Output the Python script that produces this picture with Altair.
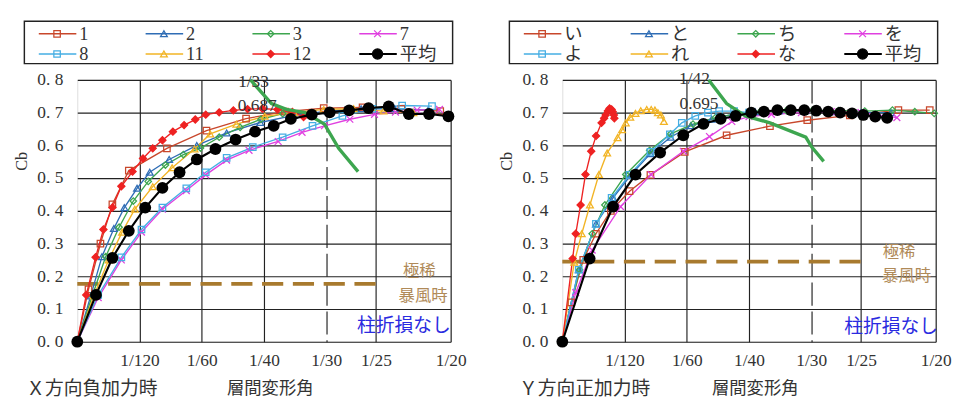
import altair as alt
import pandas as pd

# ---------------- data ----------------
LEFT_NAMES = ["1", "2", "3", "7", "8", "11", "12", "平均"]
RIGHT_NAMES = ["い", "と", "ち", "を", "よ", "れ", "な", "平均"]

COLORS = ["#C8472B", "#2F6DB5", "#3DA64F", "#E040E0", "#45AEE3", "#F2B425", "#EE2222", "#000000"]
SHAPES = ["square", "triangle-up", "diamond", "M-1,-1L1,1M-1,1L1,-1",
          "square", "triangle-up", "diamond", "circle"]
FILLED = [False, False, False, False, False, False, True, True]
SIZES = [45, 50, 45, 50, 45, 50, 55, 150]

X_TICKS = [1 / 120, 1 / 60, 1 / 40, 1 / 30, 1 / 25, 1 / 20]
Y_TICKS = [0.0, 0.1, 0.2, 0.3, 0.4, 0.5, 0.6, 0.7, 0.8]

# X direction, negative loading
L_X = [
    [0, 0.0015, 0.0031, 0.0047, 0.0069, 0.0120, 0.0173, 0.0226, 0.0278, 0.0330, 0.0382, 0.0434, 0.0486],
    [0, 0.0018, 0.0033, 0.0049, 0.0063, 0.0080, 0.0097, 0.0123, 0.0160, 0.0200, 0.0245, 0.0290, 0.0335, 0.0380, 0.0425, 0.0470],
    [0, 0.0020, 0.0038, 0.0056, 0.0075, 0.0095, 0.0118, 0.0142, 0.0165, 0.0190, 0.0218, 0.0246, 0.0275],
    [0, 0.0028, 0.0059, 0.0086, 0.0114, 0.0146, 0.0172, 0.0200, 0.0230, 0.0269, 0.0301, 0.0331, 0.0365, 0.0398, 0.0426, 0.0455, 0.0485],
    [0, 0.0028, 0.0059, 0.0086, 0.0114, 0.0146, 0.0172, 0.0200, 0.0235, 0.0275, 0.0315, 0.0355, 0.0395, 0.0435, 0.0475],
    [0, 0.0022, 0.0042, 0.0060, 0.0077, 0.0101, 0.0127, 0.0157, 0.0178, 0.0213, 0.0251, 0.0290, 0.0330, 0.0370, 0.0410, 0.0450],
    [0, 0.0012, 0.00245, 0.0035, 0.0047, 0.0059, 0.0074, 0.0088, 0.0101, 0.0114, 0.0128, 0.0143, 0.0158, 0.0172, 0.0190, 0.0209, 0.0228, 0.0248, 0.0268, 0.0288, 0.0303],
    [0, 0.0025, 0.0047, 0.0069, 0.0091, 0.0114, 0.0137, 0.0160, 0.0185, 0.0212, 0.0238, 0.0263, 0.0286, 0.0314, 0.0338, 0.0364, 0.0390, 0.0417, 0.0444, 0.0471, 0.0497],
]
L_Y = [
    [0, 0.16, 0.30, 0.42, 0.523, 0.591, 0.645, 0.682, 0.703, 0.714, 0.716, 0.712, 0.705],
    [0, 0.14, 0.26, 0.346, 0.41, 0.469, 0.518, 0.557, 0.60, 0.638, 0.67, 0.692, 0.705, 0.712, 0.712, 0.708],
    [0, 0.14, 0.26, 0.35, 0.43, 0.49, 0.54, 0.572, 0.592, 0.625, 0.655, 0.68, 0.697],
    [0, 0.135, 0.25, 0.335, 0.405, 0.462, 0.51, 0.555, 0.585, 0.612, 0.64, 0.66, 0.68, 0.695, 0.702, 0.708, 0.71],
    [0, 0.143, 0.258, 0.343, 0.41, 0.469, 0.518, 0.562, 0.595, 0.625, 0.66, 0.69, 0.712, 0.722, 0.72],
    [0, 0.14, 0.25, 0.335, 0.405, 0.474, 0.532, 0.589, 0.635, 0.665, 0.689, 0.70, 0.71, 0.712, 0.705, 0.70],
    [0, 0.143, 0.258, 0.343, 0.41, 0.475, 0.52, 0.56, 0.591, 0.616, 0.642, 0.662, 0.679, 0.694, 0.701, 0.707, 0.711, 0.712, 0.71, 0.702, 0.687],
    [0, 0.143, 0.256, 0.339, 0.41, 0.47, 0.518, 0.557, 0.589, 0.618, 0.642, 0.66, 0.681, 0.694, 0.701, 0.707, 0.714, 0.719, 0.696, 0.696, 0.689],
]
L_GREEN_X = [0.0232, 0.0260, 0.0280, 0.0305, 0.0331, 0.0350, 0.0376]
L_GREEN_Y = [0.80, 0.728, 0.71, 0.70, 0.665, 0.591, 0.52]
L_STORM = 0.177

# Y direction, positive loading
R_X = [
    [0, 0.0012, 0.0028, 0.0045, 0.0065, 0.0090, 0.0118, 0.0164, 0.0220, 0.0278, 0.0328, 0.0385, 0.0450, 0.0492],
    [0, 0.0022, 0.0045, 0.0068, 0.0092, 0.0118, 0.0145, 0.0172, 0.0200, 0.0228, 0.0258, 0.0290, 0.0325, 0.0360, 0.0400, 0.0440],
    [0, 0.0023, 0.0040, 0.0057, 0.0085, 0.0117, 0.0145, 0.0175, 0.0205, 0.0235, 0.0265, 0.0300, 0.0335, 0.0370, 0.0405, 0.0442, 0.0472, 0.0498],
    [0, 0.0018, 0.0040, 0.0078, 0.0119, 0.0162, 0.0197, 0.0227, 0.0250, 0.0280, 0.0320, 0.0360, 0.0400, 0.0448],
    [0, 0.0022, 0.0045, 0.0066, 0.0090, 0.0118, 0.0144, 0.0160, 0.0178, 0.0195, 0.0210, 0.0230, 0.0250],
    [0, 0.0016, 0.0026, 0.0037, 0.0049, 0.0060, 0.0074, 0.0080, 0.0085, 0.0091, 0.0098, 0.0105, 0.0113, 0.0119, 0.0124, 0.0128, 0.0132, 0.0136],
    [0, 0.00138, 0.0018, 0.00245, 0.0031, 0.00387, 0.00452, 0.00525, 0.0056, 0.00581, 0.0061, 0.00633, 0.0066, 0.00675, 0.0069, 0.00697],
    [0, 0.00366, 0.0068, 0.0098, 0.0131, 0.0162, 0.0189, 0.0212, 0.0232, 0.0253, 0.0270, 0.0288, 0.0306, 0.0324, 0.0340, 0.0356, 0.0372, 0.0388, 0.0403, 0.0419, 0.0435],
]
R_Y = [
    [0, 0.12, 0.25, 0.33, 0.40, 0.46, 0.51, 0.58, 0.631, 0.659, 0.677, 0.692, 0.708, 0.708],
    [0, 0.22, 0.36, 0.44, 0.51, 0.575, 0.625, 0.66, 0.68, 0.695, 0.703, 0.706, 0.706, 0.703, 0.70, 0.70],
    [0, 0.22, 0.33, 0.418, 0.511, 0.585, 0.635, 0.665, 0.685, 0.697, 0.703, 0.706, 0.707, 0.706, 0.705, 0.708, 0.703, 0.698],
    [0, 0.15, 0.28, 0.413, 0.511, 0.582, 0.627, 0.673, 0.688, 0.695, 0.70, 0.703, 0.70, 0.685],
    [0, 0.22, 0.36, 0.44, 0.51, 0.58, 0.634, 0.669, 0.69, 0.70, 0.705, 0.705, 0.70],
    [0, 0.243, 0.33, 0.418, 0.511, 0.577, 0.624, 0.648, 0.669, 0.686, 0.698, 0.706, 0.71, 0.71, 0.708, 0.70, 0.693, 0.673],
    [0, 0.254, 0.33, 0.418, 0.511, 0.582, 0.629, 0.669, 0.683, 0.693, 0.705, 0.713, 0.71, 0.703, 0.693, 0.683],
    [0, 0.254, 0.413, 0.511, 0.578, 0.631, 0.666, 0.681, 0.69, 0.70, 0.703, 0.708, 0.708, 0.708, 0.706, 0.703, 0.70, 0.698, 0.693, 0.688, 0.684],
]
R_GREEN_X = [0.0196, 0.0220, 0.0245, 0.0278, 0.0326, 0.0334, 0.0350]
R_GREEN_Y = [0.80, 0.728, 0.69, 0.669, 0.625, 0.595, 0.551]
R_STORM = 0.245

# annotations
L_ANN_TEXT = ["1/33", "0.687"]
L_ANN_X = [0.0236, 0.0241]
L_ANN_Y = [0.794, 0.72]
R_ANN_TEXT = ["1/42", "0.695"]
R_ANN_X = [0.0177, 0.0183]
R_ANN_Y = [0.802, 0.726]

STORM_TEXT = ["極稀", "暴風時"]
L_STORM_TX = [0.0458, 0.0463]
L_STORM_TY = [0.215, 0.138]
R_STORM_TX = [0.0451, 0.0461]
R_STORM_TY = [0.275, 0.200]

NOTE_TEXT = "柱折損なし"
L_NOTE = (0.0500, 0.047)
R_NOTE = (0.0503, 0.044)

L_DIR = "Ｘ方向負加力時"
R_DIR = "Ｙ方向正加力時"
X_TITLE = "層間変形角"
Y_TITLE = "Cb"

SERIF = "Liberation Serif, DejaVu Serif, serif"
SERIF_JP = "Liberation Serif, DejaVu Serif, Noto Sans CJK JP, serif"
SANS = "Noto Sans CJK JP"
W, H = 388, 272


def make_panel(names, xs, ys, gx, gy, storm, ann_t, ann_x, ann_y, stx, sty, note, dir_text, dir_x):
    rows = []
    for i, (n, xv, yv) in enumerate(zip(names, xs, ys)):
        for j, (a, b) in enumerate(zip(xv, yv)):
            rows.append(dict(series=n, idx=i, j=j, x=a, y=b, stroke=COLORS[i],
                             fill=COLORS[i] if FILLED[i] else "transparent",
                             shape=SHAPES[i], size=SIZES[i]))
    df = pd.DataFrame(rows)
    others = df[df.idx < 7]
    avg = df[df.idx == 7]

    xaxis = alt.Axis(values=X_TICKS, labelExpr="'1/' + round(1/datum.value)",
                     grid=True, gridColor="#222", gridWidth=1.2, gridOpacity=1,
                     gridDash={"condition": {"test": "abs(datum.value - 0.033333) < 0.0001", "value": [24, 6]},
                               "value": []},
                     ticks=False, domain=False, labelFont=SERIF, labelFontSize=18,
                     labelColor="#333", labelPadding=11, labelFlush=False, labelOverlap=False,
                     title=X_TITLE, titleFont=SANS, titleFontSize=18, titleFontWeight="normal",
                     titleColor="#333", titleX=200, titleY=49, titleBaseline="middle")
    yaxis = alt.Axis(values=Y_TICKS, labelExpr="replace(format(datum.value, '.1f'), '.', '. ')",
                     grid=True, gridColor="#222", gridWidth=1.2, gridOpacity=1,
                     ticks=False, domain=False, labelFont=SERIF, labelFontSize=18,
                     labelColor="#333", labelPadding=15,
                     title=Y_TITLE, titleFont=SERIF, titleFontSize=17, titleFontWeight="normal",
                     titleColor="#333", titleX=-58, titleY=84, titleBaseline="middle", titleAngle=270)
    X = alt.X("x:Q", scale=alt.Scale(domain=[0, 0.05], nice=False, zero=False), axis=xaxis)
    Y = alt.Y("y:Q", scale=alt.Scale(domain=[0, 0.8], nice=False), axis=yaxis)

    brown = alt.Chart(pd.DataFrame({"x": [0.0], "x2": [0.04], "y": [storm]})).mark_rule(
        color="#A87A2E", strokeWidth=4, strokeDash=[22, 10]).encode(x=X, x2="x2:Q", y=Y)

    lines = alt.Chart(others).mark_line(strokeWidth=1.4).encode(
        x=X, y=Y, stroke=alt.Stroke("stroke:N", scale=None), detail="series:N", order="j:Q")
    pts = alt.Chart(others).mark_point(strokeWidth=1.3, opacity=1).encode(
        x=X, y=Y, stroke=alt.Stroke("stroke:N", scale=None), fill=alt.Fill("fill:N", scale=None),
        shape=alt.Shape("shape:N", scale=None), size=alt.Size("size:Q", scale=None))
    green = alt.Chart(pd.DataFrame({"x": gx, "y": gy, "j": list(range(len(gx)))})).mark_line(
        color="#3DA64F", strokeWidth=3.5).encode(x=X, y=Y, order="j:Q")
    avg_line = alt.Chart(avg).mark_line(color="black", strokeWidth=2.2).encode(x=X, y=Y, order="j:Q")
    avg_pts = alt.Chart(avg).mark_circle(color="black", size=SIZES[7], opacity=1).encode(x=X, y=Y)

    ann = alt.Chart(pd.DataFrame({"x": ann_x, "y": ann_y, "t": ann_t})).mark_text(
        font=SERIF, fontSize=18, color="#333").encode(x=X, y=Y, text="t:N")
    storm_txt = alt.Chart(pd.DataFrame({"x": stx, "y": sty, "t": STORM_TEXT})).mark_text(
        font=SANS, fontSize=17, color="#B08A58").encode(x=X, y=Y, text="t:N")
    note_txt = alt.Chart(pd.DataFrame({"x": [note[0]], "y": [note[1]], "t": [NOTE_TEXT]})).mark_text(
        font=SANS, fontSize=19.5, color="#2B2BE0", align="right").encode(x=X, y=Y, text="t:N")

    # manual legend (pixel positions relative to the plot origin)
    leg = pd.DataFrame({
        "name": names,
        "col": [i % 4 for i in range(8)],
        "row": [i // 4 for i in range(8)],
        "stroke": COLORS,
        "fill": [c if f else "transparent" for c, f in zip(COLORS, FILLED)],
        "shape": SHAPES,
        "size": [s if s < 100 else 110 for s in SIZES],
    })
    leg["lx1"] = -40 + 111 * leg["col"]
    leg["lx2"] = -1 + 111 * leg["col"]
    leg["mx"] = -21 + 111 * leg["col"]
    leg["tx"] = 2 + 111 * leg["col"]
    leg["ly"] = -48 + 21 * leg["row"]
    leg["lw"] = [2.2 if i == 7 else 1.4 for i in range(8)]

    box = alt.Chart(pd.DataFrame({"a": [0]})).mark_rect(
        fill="transparent", stroke="#222", strokeWidth=1.5).encode(
        x=alt.value(-55), x2=alt.value(390), y=alt.value(-61), y2=alt.value(-17))
    leg_lines = alt.Chart(leg).mark_rule().encode(
        x=alt.X("lx1:Q", scale=None, axis=None), x2="lx2:Q",
        y=alt.Y("ly:Q", scale=None, axis=None),
        stroke=alt.Stroke("stroke:N", scale=None), strokeWidth=alt.StrokeWidth("lw:Q", scale=None))
    leg_pts = alt.Chart(leg).mark_point(strokeWidth=1.3, opacity=1).encode(
        x=alt.X("mx:Q", scale=None, axis=None), y=alt.Y("ly:Q", scale=None, axis=None),
        stroke=alt.Stroke("stroke:N", scale=None), fill=alt.Fill("fill:N", scale=None),
        shape=alt.Shape("shape:N", scale=None), size=alt.Size("size:Q", scale=None))
    leg_txt = alt.Chart(leg).mark_text(font=SERIF_JP, fontSize=19, color="#333", align="left").encode(
        x=alt.X("tx:Q", scale=None, axis=None), y=alt.Y("ly:Q", scale=None, axis=None), text="name:N")

    dir_lbl = alt.Chart(pd.DataFrame({"a": [0]})).mark_text(
        font=SANS, fontSize=19.5, color="#333", align="left", text=dir_text).encode(
        x=alt.value(dir_x), y=alt.value(321))

    return alt.layer(brown, lines, pts, green, avg_line, avg_pts, ann, storm_txt, note_txt,
                     box, leg_lines, leg_pts, leg_txt, dir_lbl).properties(width=W, height=H)


left = make_panel(LEFT_NAMES, L_X, L_Y, L_GREEN_X, L_GREEN_Y, L_STORM, L_ANN_TEXT, L_ANN_X, L_ANN_Y,
                  L_STORM_TX, L_STORM_TY, L_NOTE, L_DIR, -53)
right = make_panel(RIGHT_NAMES, R_X, R_Y, R_GREEN_X, R_GREEN_Y, R_STORM, R_ANN_TEXT, R_ANN_X, R_ANN_Y,
                   R_STORM_TX, R_STORM_TY, R_NOTE, R_DIR, -45)

chart = alt.hconcat(left, right, spacing=31).properties(
    padding={"left": 4, "top": 4, "right": 2, "bottom": 0}
).configure_view(stroke="#111", strokeWidth=1.5).configure(background="white")

chart.save("out.html", embed_options={"renderer": "svg", "actions": False})
